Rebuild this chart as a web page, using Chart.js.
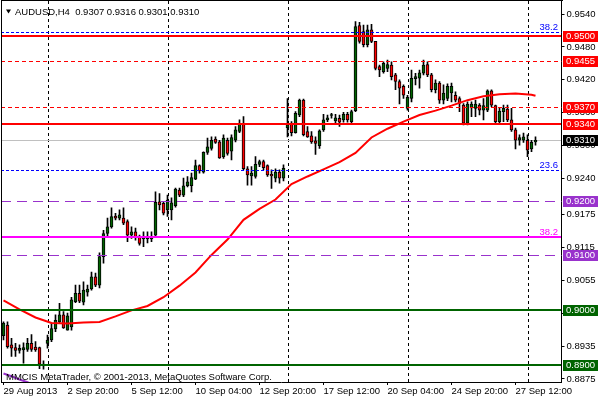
<!DOCTYPE html>
<html>
<head>
<meta charset="utf-8">
<script src="https://cdn.jsdelivr.net/npm/chart.js@4.4.0/dist/chart.umd.min.js"></script>
<style>
html,body{margin:0;padding:0;background:#fff;}
</style>
</head>
<body>
<canvas id="myChart" width="600" height="400"></canvas>
<script>
// AUDUSD H4, one entry per bar (index 0 = 29 Aug 2013 04:00)
var opens = [0.8954,0.8973,0.8937,0.8932,0.8927,0.8928,0.8929,0.8940,0.8933,0.8932,
0.8899,0.8940,0.8946,0.8966,0.8979,0.8992,0.8964,0.8970,0.9016,0.9031,
0.9015,0.9033,0.9039,0.9061,0.9046,0.9098,0.9140,0.9152,0.9172,0.9168,
0.9168,0.9162,0.9137,0.9143,0.9134,0.9130,0.9130,0.9130,0.9137,0.9198,
0.9195,0.9183,0.9183,0.9191,0.9219,0.9210,0.9227,0.9227,0.9239,0.9264,
0.9252,0.9288,0.9295,0.9312,0.9307,0.9280,0.9310,0.9290,0.9310,0.9326,
0.9341,0.9258,0.9245,0.9244,0.9266,0.9271,0.9264,0.9248,0.9241,0.9252,
0.9241,0.9333,0.9341,0.9324,0.9356,0.9383,0.9326,0.9318,0.9309,0.9300,
0.9329,0.9347,0.9355,0.9345,0.9350,0.9347,0.9357,0.9344,0.9364,0.9519,
0.9508,0.9484,0.9511,0.9490,0.9444,0.9435,0.9441,0.9447,0.9429,0.9417,
0.9408,0.9368,0.9386,0.9422,0.9423,0.9432,0.9448,0.9429,0.9402,0.9414,
0.9383,0.9386,0.9396,0.9392,0.9386,0.9374,0.9341,0.9369,0.9368,0.9374,
0.9365,0.9365,0.9400,0.9373,0.9344,0.9362,0.9367,0.9347,0.9329,0.9310,
0.9310,0.9310,0.9294,0.9307];
var highs = [0.8979,0.8979,0.8949,0.8940,0.8937,0.8941,0.8949,0.8956,0.8943,0.8933,
0.8908,0.8955,0.8977,0.8992,0.9013,0.8998,0.8995,0.9024,0.9046,0.9046,
0.9052,0.9046,0.9070,0.9068,0.9105,0.9146,0.9168,0.9187,0.9177,0.9183,
0.9187,0.9165,0.9152,0.9150,0.9137,0.9143,0.9143,0.9143,0.9216,0.9213,
0.9198,0.9210,0.9205,0.9223,0.9223,0.9241,0.9244,0.9250,0.9274,0.9265,
0.9289,0.9314,0.9316,0.9316,0.9310,0.9320,0.9314,0.9320,0.9335,0.9347,
0.9353,0.9262,0.9262,0.9280,0.9274,0.9274,0.9265,0.9256,0.9258,0.9256,
0.9265,0.9386,0.9344,0.9362,0.9385,0.9385,0.9335,0.9326,0.9316,0.9329,
0.9357,0.9356,0.9359,0.9357,0.9356,0.9361,0.9361,0.9365,0.9526,0.9525,
0.9520,0.9520,0.9521,0.9490,0.9447,0.9453,0.9456,0.9453,0.9432,0.9420,
0.9411,0.9392,0.9438,0.9432,0.9438,0.9456,0.9453,0.9432,0.9420,0.9417,
0.9411,0.9413,0.9414,0.9398,0.9389,0.9377,0.9380,0.9380,0.9383,0.9377,
0.9386,0.9402,0.9402,0.9374,0.9368,0.9374,0.9374,0.9368,0.9332,0.9320,
0.9323,0.9320,0.9310,0.9316];
var lows = [0.8946,0.8931,0.8916,0.8916,0.8922,0.8904,0.8925,0.8925,0.8925,0.8894,
0.8893,0.8931,0.8943,0.8961,0.8977,0.8967,0.8964,0.8964,0.9014,0.9014,
0.9010,0.9026,0.9037,0.9043,0.9041,0.9086,0.9134,0.9150,0.9165,0.9165,
0.9156,0.9125,0.9131,0.9128,0.9119,0.9116,0.9123,0.9125,0.9134,0.9183,
0.9174,0.9171,0.9165,0.9188,0.9207,0.9207,0.9225,0.9216,0.9238,0.9250,
0.9250,0.9284,0.9292,0.9304,0.9277,0.9277,0.9283,0.9274,0.9307,0.9324,
0.9256,0.9228,0.9228,0.9241,0.9262,0.9256,0.9244,0.9222,0.9234,0.9232,
0.9236,0.9316,0.9318,0.9323,0.9353,0.9318,0.9315,0.9304,0.9284,0.9295,
0.9326,0.9344,0.9350,0.9341,0.9335,0.9343,0.9343,0.9341,0.9362,0.9487,
0.9480,0.9480,0.9488,0.9438,0.9426,0.9432,0.9435,0.9420,0.9402,0.9376,
0.9386,0.9365,0.9380,0.9411,0.9405,0.9429,0.9426,0.9398,0.9396,0.9377,
0.9376,0.9382,0.9380,0.9380,0.9362,0.9338,0.9338,0.9353,0.9353,0.9356,
0.9347,0.9362,0.9371,0.9341,0.9341,0.9344,0.9344,0.9326,0.9294,0.9301,
0.9306,0.9280,0.9289,0.9301];
var closes = [0.8977,0.8934,0.8931,0.8927,0.8931,0.8932,0.8940,0.8929,0.8928,0.8902,
0.8902,0.8946,0.8967,0.8982,0.8992,0.8968,0.8990,0.9019,0.9031,0.9017,
0.9037,0.9039,0.9061,0.9046,0.9098,0.9140,0.9152,0.9171,0.9168,0.9174,
0.9159,0.9137,0.9143,0.9134,0.9122,0.9134,0.9134,0.9134,0.9197,0.9192,
0.9177,0.9201,0.9196,0.9221,0.9210,0.9227,0.9234,0.9242,0.9264,0.9254,
0.9288,0.9298,0.9310,0.9306,0.9278,0.9314,0.9286,0.9315,0.9329,0.9341,
0.9258,0.9247,0.9250,0.9266,0.9271,0.9260,0.9247,0.9245,0.9252,0.9241,
0.9259,0.9338,0.9324,0.9359,0.9383,0.9320,0.9316,0.9307,0.9304,0.9327,
0.9347,0.9351,0.9356,0.9351,0.9343,0.9357,0.9347,0.9362,0.9517,0.9490,
0.9484,0.9511,0.9490,0.9441,0.9438,0.9450,0.9448,0.9426,0.9417,0.9405,
0.9392,0.9388,0.9423,0.9426,0.9433,0.9447,0.9429,0.9402,0.9414,0.9383,
0.9396,0.9408,0.9408,0.9383,0.9377,0.9341,0.9376,0.9376,0.9376,0.9365,
0.9373,0.9400,0.9374,0.9344,0.9363,0.9368,0.9347,0.9329,0.9310,0.9315,
0.9316,0.9292,0.9306,0.9310];

var barSlots = 140; // bars plus empty space on the right
var timeIndex = [0,16,32,48,64,80,96,112,128];
var timeText = ["29 Aug 2013","2 Sep 20:00","5 Sep 12:00","10 Sep 04:00","12 Sep 20:00",
  "17 Sep 12:00","20 Sep 04:00","24 Sep 20:00","27 Sep 12:00"];
var weekStart = [11,41,71,101,131];
var priceTicks = [0.9540,0.9480,0.9420,0.9360,0.9300,0.9240,0.9175,0.9115,0.9055,0.8995,0.8935,0.8875];

var maIndex = [0,4,8,12,16,20,24,28,32,36,40,44,48,52,56,60,64,68,72,76,80,84,88,92,96,100,104,108,112,116,120,124,128,132,133];
var maValues = [0.9018,0.9002,0.8987,0.8977,0.8976,0.8978,0.8979,0.8989,0.9000,0.9008,
0.9024,0.9045,0.9069,0.9101,0.9129,0.9165,0.9185,0.9202,0.9230,0.9244,
0.9257,0.9270,0.9287,0.9315,0.9331,0.9344,0.9356,0.9364,0.9373,0.9383,
0.9390,0.9394,0.9395,0.9393,0.9391];
var slowIndex = [0,2,4,6,8];
var slowValues = [0.8885,0.8880,0.8874,0.8869,0.8863];

var levelPrices = [0.9500,0.9455,0.9370,0.9340,0.9200,0.9100,0.9000,0.8900];
var levelColors = ["#ff0000","#ff0000","#ff0000","#ff0000","#9932cc","#9932cc","#006400","#006400"];
var levelDash = [null,[4,3],[4,3],null,[10,6],[10,6],null,null];
var levelWidth = [2,1,1,2,1,1,2,2];
var fiboPrices = [0.9508,0.9256,0.9134];
var fiboText = ["38.2","23.6","38.2"];
var fiboColors = ["#0000ff","#0000ff","#ff00ff"];
var bidPrice = 0.9310;
var header = "AUDUSD,H4  0.9307 0.9316 0.9301 0.9310";
var footer = "MMCIS MetaTrader, \u00a9 2001-2013, MetaQuotes Software Corp.";

var FONT = "'Liberation Sans', Arial, sans-serif";
Chart.defaults.font.family = FONT;
Chart.defaults.font.size = 9.5;
Chart.defaults.color = "#000";

var labels = [];
for (var i = 0; i < barSlots; i++) labels.push(i);

var wicks = [], bodies = [], bodyColors = [];
for (var i = 0; i < opens.length; i++) {
    wicks.push([lows[i], highs[i]]);
    bodies.push([Math.min(opens[i], closes[i]), Math.max(opens[i], closes[i])]);
    bodyColors.push(closes[i] >= opens[i] ? "#006400" : "#ff0000");
}
var maData = [], slowData = [];
for (var i = 0; i < barSlots; i++) { maData.push(null); slowData.push(null); }
maIndex.forEach(function(k, j){ maData[k] = maValues[j]; });
slowIndex.forEach(function(k, j){ slowData[k] = slowValues[j]; });

// horizontal line made of filled rectangles so the colour stays solid
function hline(c, a, y, color, width, dash) {
    var top = Math.round(y) - (width > 1 ? 1 : 0);
    c.fillStyle = color;
    if (!dash) {
        c.fillRect(Math.floor(a.left), top, Math.ceil(a.right - a.left), width);
        return;
    }
    for (var x = Math.floor(a.left); x < a.right; x += dash[0] + dash[1]) {
        c.fillRect(x, top, Math.min(dash[0], a.right - x), width);
    }
}

var mtPlugin = {
    id: "mt",
    beforeDatasetsDraw: function(chart) {
        var c = chart.ctx, a = chart.chartArea, xs = chart.scales.x, ys = chart.scales.y;
        c.save();
        c.fillStyle = "#000";
        weekStart.forEach(function(i){
            var px = Math.round(xs.getPixelForValue(i));
            for (var y = Math.ceil(a.top); y < a.bottom; y += 6) {
                c.fillRect(px, y, 1, 3);
            }
        });
        hline(c, a, ys.getPixelForValue(bidPrice), "#c0c0c0", 1, null);
        c.restore();
    },
    afterDatasetsDraw: function(chart) {
        var c = chart.ctx, a = chart.chartArea, ys = chart.scales.y;
        c.save();
        levelPrices.forEach(function(p, j){
            hline(c, a, ys.getPixelForValue(p), levelColors[j], levelWidth[j], levelDash[j]);
        });
        fiboPrices.forEach(function(p, j){
            var y = ys.getPixelForValue(p);
            if (j < 2) hline(c, a, y, fiboColors[j], 1, [3, 2]);
            else hline(c, a, y, fiboColors[j], 2, null);
            c.fillStyle = fiboColors[j];
            c.font = "9.5px " + FONT;
            c.textAlign = "right";
            c.textBaseline = "alphabetic";
            c.fillText(fiboText[j], 558, Math.round(y) - 2);
        });
        c.restore();
    },
    afterDraw: function(chart) {
        var c = chart.ctx, a = chart.chartArea, ys = chart.scales.y;
        c.save();
        // price tags on the right scale
        var tags = levelPrices.slice(0, 4).concat([bidPrice]).concat(levelPrices.slice(4));
        var tagColors = levelColors.slice(0, 4).concat(["#000"]).concat(levelColors.slice(4));
        c.font = "9.5px " + FONT;
        c.textBaseline = "middle";
        c.textAlign = "left";
        tags.forEach(function(p, j){
            var y = Math.round(ys.getPixelForValue(p));
            c.fillStyle = tagColors[j];
            c.fillRect(563, y - 5, 35, 11);
            c.fillStyle = "#fff";
            c.fillText(p.toFixed(4), 566, y + 0.5);
        });
        // frame
        c.fillStyle = "#000";
        c.fillRect(1, 0, 1, Math.round(a.bottom));
        c.fillRect(1, 0, Math.round(a.right), 1);
        // header
        c.beginPath();
        c.moveTo(6, 9.5);
        c.lineTo(11, 9.5);
        c.lineTo(8.5, 13.5);
        c.closePath();
        c.fill();
        c.textBaseline = "alphabetic";
        c.fillText(header, 15, 15);
        c.fillText(footer, 6, 380);
        c.restore();
    }
};

var myChart = new Chart(document.getElementById("myChart"), {
    data: {
        labels: labels,
        datasets: [{
            type: "line",
            data: maData,
            borderColor: "#ff0000",
            borderWidth: 2,
            pointRadius: 0,
            spanGaps: true,
            tension: 0,
            order: 1
        }, {
            type: "line",
            data: slowData,
            borderColor: "#9932cc",
            borderWidth: 2,
            pointRadius: 0,
            spanGaps: true,
            order: 1
        }, {
            type: "bar",
            data: bodies,
            backgroundColor: bodyColors,
            borderColor: "#000",
            borderWidth: 1,
            borderSkipped: false,
            barThickness: 3,
            minBarLength: 1,
            grouped: false,
            order: 2
        }, {
            type: "bar",
            data: wicks,
            backgroundColor: "#000",
            barThickness: 1,
            grouped: false,
            order: 3
        }]
    },
    options: {
        responsive: false,
        animation: false,
        layout: { padding: { left: 1.5, top: 1, right: 0, bottom: 0 } },
        plugins: { legend: { display: false }, tooltip: { enabled: false } },
        scales: {
            x: {
                type: "category",
                offset: true,
                grid: { drawOnChartArea: false, offset: false, tickLength: 3, color: "#000" },
                border: { display: true, color: "#000", width: 1 },
                ticks: {
                    autoSkip: false,
                    maxRotation: 0,
                    align: "start",
                    padding: 1,
                    color: "#000",
                    callback: function(v){
                        var k = timeIndex.indexOf(v);
                        return k >= 0 ? timeText[k] : "";
                    }
                },
                afterBuildTicks: function(s){
                    s.ticks = s.ticks.filter(function(t){ return timeIndex.indexOf(t.value) >= 0; });
                },
                afterFit: function(s){
                    s.height = 18;
                    s.paddingLeft = 0;
                    s.paddingRight = 0;
                }
            },
            y: {
                position: "right",
                min: 0.88695,
                max: 0.95637,
                grid: { drawOnChartArea: false, tickLength: 3, color: "#000" },
                border: { display: true, color: "#000", width: 1 },
                ticks: {
                    autoSkip: false,
                    padding: 2,
                    color: "#000",
                    callback: function(v){ return v.toFixed(4); }
                },
                afterBuildTicks: function(s){
                    s.ticks = priceTicks.map(function(v){ return { value: v }; });
                },
                afterFit: function(s){
                    s.width = 38.5;
                    s.paddingTop = 0;
                    s.paddingBottom = 0;
                }
            }
        }
    },
    plugins: [mtPlugin]
});
</script>
</body>
</html>
